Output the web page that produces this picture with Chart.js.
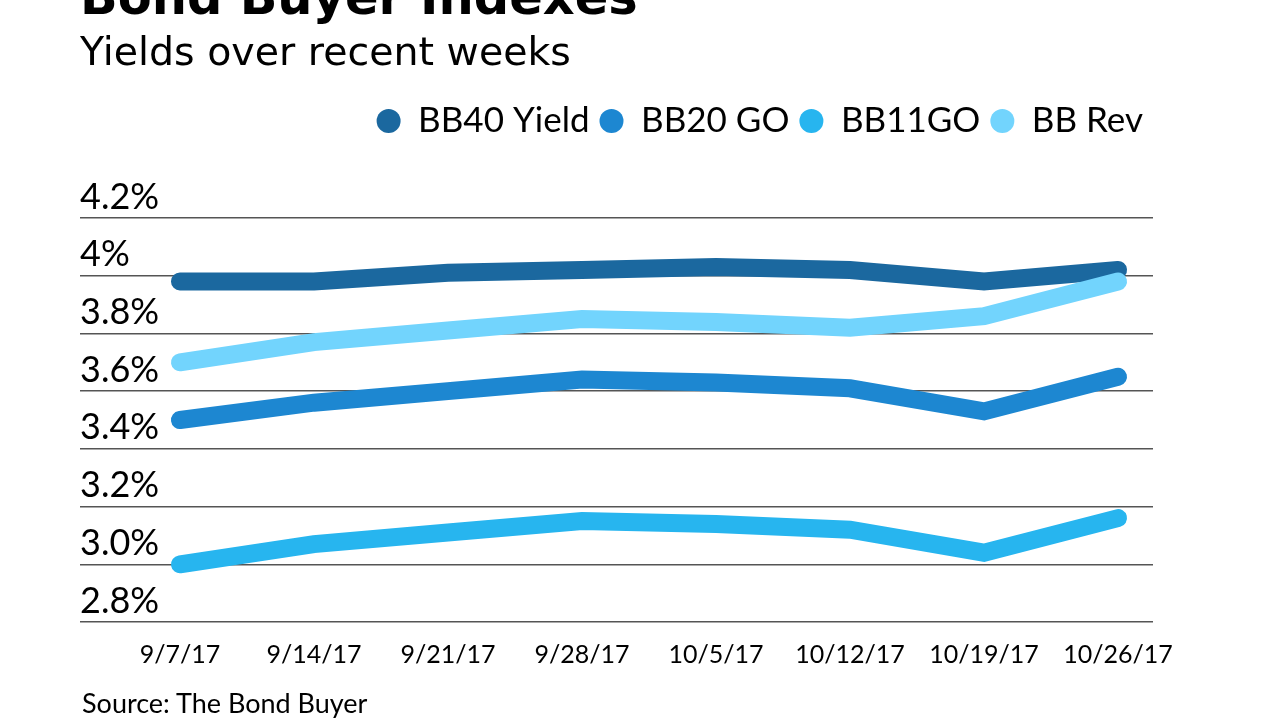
<!DOCTYPE html>
<html>
<head>
<meta charset="utf-8">
<script src="https://cdn.jsdelivr.net/npm/chart.js@4"></script>
<style>
  html, body { margin: 0; padding: 0; background: #ffffff; overflow: hidden; }
  #wrap { position: relative; width: 1280px; height: 720px; overflow: hidden; background: #fff; }
  #c { position: absolute; left: 0; top: 0; }
  .txt { position: absolute; white-space: nowrap; color: #000; }
  #title { left: 80px; top: -28px; font: bold 49.5px/50px "DejaVu Sans", sans-serif; }
  #subtitle { left: 80px; top: 31px; font: 39.5px/40px "DejaVu Sans", sans-serif; }
  #source { left: 82px; top: 688px; font: 27px/30px Lato, sans-serif; }
</style>
</head>
<body>
<div id="wrap">
  <canvas id="c" width="1280" height="720"></canvas>
  <div class="txt" id="title">Bond Buyer Indexes</div>
  <div class="txt" id="subtitle">Yields over recent weeks</div>
  <div class="txt" id="source">Source: The Bond Buyer</div>
</div>
<script>
// ---- data ----
const dates = ['9/7/17', '9/14/17', '9/21/17', '9/28/17', '10/5/17', '10/12/17', '10/19/17', '10/26/17'];
const bb40Yield = [3.98, 3.98, 4.01, 4.02, 4.03, 4.02, 3.98, 4.02];
const bb20GO   = [3.50, 3.56, 3.60, 3.64, 3.63, 3.61, 3.53, 3.65];
const bb11GO   = [3.00, 3.07, 3.11, 3.15, 3.14, 3.12, 3.04, 3.16];
const bbRev    = [3.70, 3.77, 3.81, 3.85, 3.84, 3.82, 3.86, 3.98];
const seriesNames = ['BB40 Yield', 'BB20 GO', 'BB11GO', 'BB Rev'];
const yTickValues = [2.8, 3.0, 3.2, 3.4, 3.6, 3.8, 4.0, 4.2];
const yTickLabels = ['2.8%', '3.0%', '3.2%', '3.4%', '3.6%', '3.8%', '4%', '4.2%'];

const colors = ['#1b689f', '#1d87d1', '#27b5ef', '#72d4fd'];
const toPts = arr => arr.map((v, i) => ({ x: i, y: v }));
const allSeries = [bb40Yield, bb20GO, bb11GO, bbRev];

const datasets = allSeries.map((arr, k) => ({
  label: seriesNames[k],
  data: toPts(arr),
  borderColor: colors[k],
  backgroundColor: colors[k],
  borderWidth: 18,
  borderCapStyle: 'round',
  borderJoinStyle: 'miter',
  pointRadius: 0,
  pointHoverRadius: 0,
  tension: 0,
  fill: false,
  order: k === 3 ? 0 : 1
}));

const legendGap = {
  id: 'legendGap',
  beforeInit(chart) {
    const orig = chart.legend.fit;
    chart.legend.fit = function () {
      orig.call(this);
      this.height += 69.5;
    };
  }
};

new Chart(document.getElementById('c'), {
  type: 'line',
  data: { datasets },
  plugins: [legendGap],
  options: {
    responsive: false,
    animation: false,
    devicePixelRatio: 1,
    layout: { padding: { left: 80, right: 127, top: 93.5, bottom: 32 } },
    plugins: {
      tooltip: { enabled: false },
      title: { display: false },
      legend: {
        display: true,
        position: 'top',
        align: 'end',
        labels: {
          usePointStyle: true,
          pointStyle: 'circle',
          pointStyleWidth: 24,
          boxHeight: 17,
          padding: 10,
          color: '#000',
          font: { family: 'Lato', size: 35 },
          generateLabels: (chart) => chart.data.datasets.map((ds, i) => ({
            text: ds.label,
            fillStyle: ds.borderColor,
            strokeStyle: ds.borderColor,
            lineWidth: 0,
            pointStyle: 'circle',
            hidden: false,
            datasetIndex: i,
            fontColor: '#000'
          }))
        }
      }
    },
    scales: {
      x: {
        type: 'linear',
        min: -0.746,
        max: 7.261,
        afterBuildTicks: (scale) => { scale.ticks = dates.map((d, i) => ({ value: i })); },
        grid: { display: false, drawTicks: false },
        border: { display: false },
        ticks: {
          color: '#000',
          font: { family: 'Lato', size: 25 },
          padding: 18,
          maxRotation: 0,
          autoSkip: false,
          callback: (v) => dates[v]
        }
      },
      y: {
        min: 2.8,
        max: 4.2,
        afterBuildTicks: (scale) => { scale.ticks = yTickValues.map(v => ({ value: v })); },
        grid: { color: '#555', lineWidth: 1.5, drawTicks: false },
        border: { display: false },
        ticks: {
          mirror: true,
          padding: 0,
          labelOffset: -21,
          color: '#000',
          font: { family: 'Lato', size: 36 },
          callback: (v, i) => yTickLabels[i]
        }
      }
    }
  }
});
</script>
</body>
</html>
